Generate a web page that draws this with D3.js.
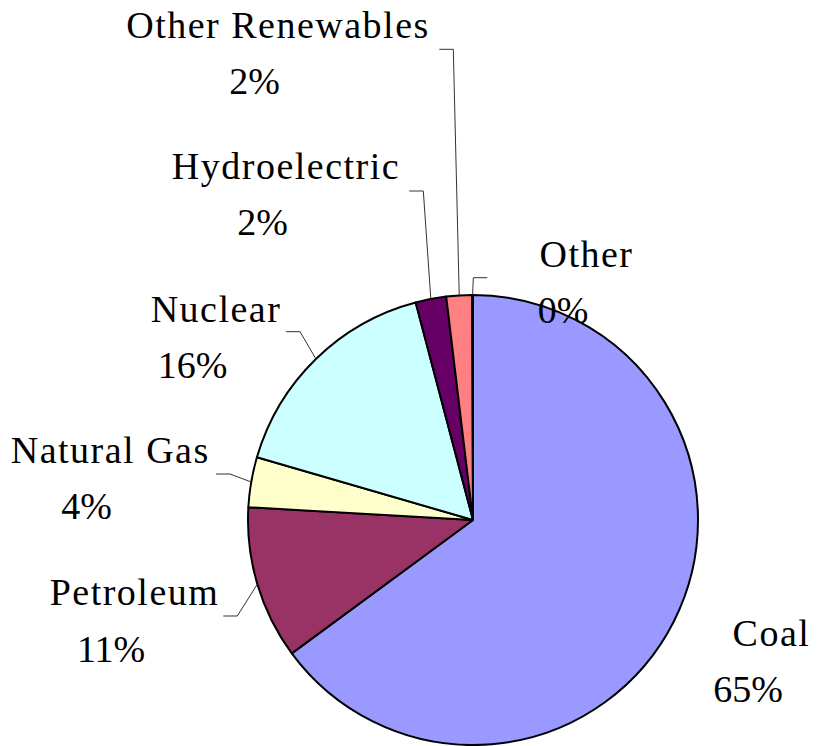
<!DOCTYPE html>
<html>
<head>
<meta charset="utf-8">
<script src="https://cdn.jsdelivr.net/npm/d3@7"></script>
</head>
<body style="margin:0">
<script>
// Electricity generation by energy source (share of total, %)
const sources = ["Coal", "Petroleum", "Natural Gas", "Nuclear", "Hydroelectric", "Other Renewables", "Other"];
const shares  = [64.9, 11.0, 3.6, 16.4, 2.2, 1.85, 0.05];
const colors  = ["#9999FF", "#993366", "#FFFFCC", "#CCFFFF", "#660066", "#FF8080", "#0066CC"];

// Label layout, relative to the pie centre: where the percentage line sits,
// and where the leader line bends (null = no leader line).
const labelAnchor = [[275, 182], [-362, 141.7], [-386.3, -0.7], [-280.5, -142], [-210.5, -285], [-218.5, -426], [90, -197]];
const leaderElbow = [null, [-235.7, 96], [-243, -46], [-173, -188.3], [-49.7, -329], [-19.7, -470.7], [0.3, -242.3]];
const leaderTail  = [0, -1, -1, -1, -1, -1, 1];

const W = 817, H = 746;
const cx = 473, cy = 520, R = 225;
const fontSize = 38, lineGap = 56.5, nameShift = 23.5;

const data = sources.map((s, i) => ({ name: s, value: shares[i], color: colors[i], i }));
const total = d3.sum(shares);
const pct = d3.format(".0%");

const svg = d3.select("body").append("svg")
  .attr("width", W).attr("height", H)
  .style("display", "block")
  .style("font-family", '"Liberation Serif"');

svg.append("rect").attr("width", W).attr("height", H).attr("fill", "#fff");

const g = svg.append("g").attr("transform", `translate(${cx},${cy})`);

const pie = d3.pie().value(d => d.value).sort(null);
const arcs = pie(data);
const arc = d3.arc().innerRadius(0).outerRadius(R);

g.selectAll("path.slice")
  .data(arcs)
  .join("path")
  .attr("class", "slice")
  .attr("d", arc)
  .attr("fill", d => d.data.color)
  .attr("stroke", "#000")
  .attr("stroke-width", 2)
  .attr("stroke-linejoin", "round");

// Leader lines from the mid-point of each slice's rim to its label
const leaders = arcs.filter(d => leaderElbow[d.data.i]);
g.selectAll("path.leader")
  .data(leaders)
  .join("path")
  .attr("class", "leader")
  .attr("fill", "none")
  .attr("stroke", "#333")
  .attr("stroke-width", 1)
  .attr("d", d => {
    const a = (d.startAngle + d.endAngle) / 2;
    const p0 = [R * Math.sin(a), -R * Math.cos(a)];
    const e = leaderElbow[d.data.i];
    const p2 = [e[0] + 14 * leaderTail[d.data.i], e[1]];
    return d3.line()([p0, e, p2]);
  });

// Category name and percentage labels
const labels = g.selectAll("g.label")
  .data(arcs)
  .join("g")
  .attr("class", "label")
  .attr("transform", d => `translate(${labelAnchor[d.data.i][0]},${labelAnchor[d.data.i][1]})`);

labels.append("text")
  .attr("x", nameShift)
  .attr("y", -lineGap)
  .attr("text-anchor", "middle")
  .attr("font-size", fontSize)
  .style("font-family", '"Liberation Serif"')
  .style("letter-spacing", "1.5px")
  .text(d => d.data.name);

labels.append("text")
  .attr("x", 0)
  .attr("y", 0)
  .attr("text-anchor", "middle")
  .attr("font-size", fontSize)
  .style("font-family", '"Liberation Serif"')
  .text(d => pct(d.data.value / total));
</script>
</body>
</html>
